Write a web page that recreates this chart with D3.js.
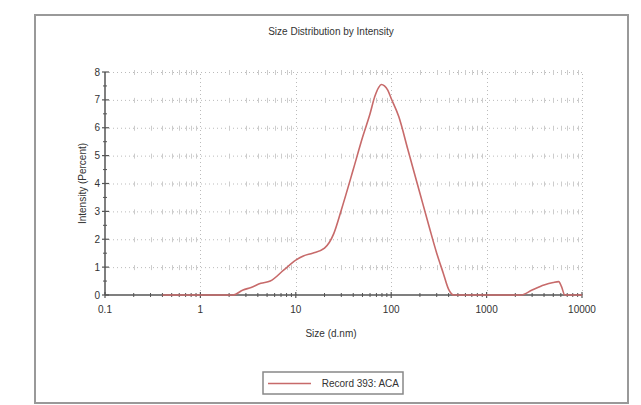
<!DOCTYPE html>
<html>
<head>
<meta charset="utf-8">
<script src="https://cdn.jsdelivr.net/npm/d3@7"></script>
<style>
  body { margin: 0; background: #fff; }
  text { font-family: "Liberation Sans Narrow", "Liberation Sans", Arial, sans-serif; fill: #333; }
</style>
</head>
<body>
<div id="chart"></div>
<script>
// values
var sizes = [0.4, 1, 2.2, 2.8, 3.4, 4.3, 5.4, 7.5, 10, 12, 15, 20, 25, 30, 40, 50, 60, 67, 74, 79, 85, 92, 100, 120, 150, 200, 250, 300, 350, 400, 450, 1000, 2300, 3000, 4000, 5000, 5700, 6100, 6600, 10000];
var intensity = [0, 0, 0, 0.18, 0.27, 0.42, 0.5, 0.9, 1.25, 1.4, 1.5, 1.68, 2.2, 3.05, 4.5, 5.65, 6.5, 7.1, 7.45, 7.55, 7.5, 7.35, 7.05, 6.4, 5.2, 3.65, 2.45, 1.5, 0.8, 0.2, 0, 0, 0, 0.18, 0.36, 0.45, 0.48, 0.3, 0, 0];
var xTicks = [0.1, 1, 10, 100, 1000, 10000];
var yTicks = [0, 1, 2, 3, 4, 5, 6, 7, 8];
var seriesName = "Record 393: ACA";

var width = 641, height = 405;
var margin = { top: 72, right: 59, bottom: 110, left: 105 }; // plot box 105..582, 72..295

var svg = d3.select("#chart").append("svg")
    .attr("width", width)
    .attr("height", height);

// outer frame
svg.append("rect")
    .attr("x", 35).attr("y", 15)
    .attr("width", 593).attr("height", 388)
    .attr("fill", "none")
    .attr("stroke", "#999")
    .attr("stroke-width", 2);

var x = d3.scaleLog()
    .domain([0.1, 10000])
    .range([margin.left, width - margin.right]);

var y = d3.scaleLinear()
    .domain([0, 8])
    .range([height - margin.bottom, margin.top]);

var minorX = [];
xTicks.slice(0, -1).forEach(function (d) {
    for (var k = 2; k <= 9; k++) minorX.push(d * k);
});

// grid
var grid = svg.append("g").attr("stroke", "#bbb").attr("stroke-width", 1);
grid.selectAll(".hg")
    .data(yTicks.slice(1))
    .enter().append("line")
    .attr("x1", x(0.1)).attr("x2", x(10000))
    .attr("y1", function (d) { return y(d) + 0.5; })
    .attr("y2", function (d) { return y(d) + 0.5; })
    .attr("stroke-dasharray", "1,3");
grid.selectAll(".vg")
    .data(xTicks.slice(1))
    .enter().append("line")
    .attr("x1", function (d) { return Math.round(x(d)) + 0.5; })
    .attr("x2", function (d) { return Math.round(x(d)) + 0.5; })
    .attr("y1", y(0)).attr("y2", y(8))
    .attr("stroke-dasharray", "1,3");

// little minor marks along each horizontal grid line
yTicks.slice(1).forEach(function (v) {
    grid.append("g").selectAll("line")
        .data(minorX)
        .enter().append("line")
        .attr("x1", function (d) { return Math.round(x(d)) + 0.5; })
        .attr("x2", function (d) { return Math.round(x(d)) + 0.5; })
        .attr("y1", y(v) - 2).attr("y2", y(v) + 3)
        .attr("stroke", "#ccc");
});

// x axis
var xAxis = svg.append("g").attr("transform", "translate(0," + y(0) + ")");
xAxis.append("line")
    .attr("x1", x(0.1)).attr("x2", x(10000))
    .attr("stroke", "#555").attr("stroke-width", 1.5);
xAxis.selectAll(".mx")
    .data(minorX)
    .enter().append("line")
    .attr("x1", function (d) { return x(d); }).attr("x2", function (d) { return x(d); })
    .attr("y1", -2).attr("y2", 2)
    .attr("stroke", "#555");
xAxis.selectAll(".tx")
    .data(xTicks)
    .enter().append("line")
    .attr("x1", function (d) { return x(d); }).attr("x2", function (d) { return x(d); })
    .attr("y1", -3).attr("y2", 3)
    .attr("stroke", "#555").attr("stroke-width", 1.2);
xAxis.selectAll("text")
    .data(xTicks)
    .enter().append("text")
    .attr("x", function (d) { return x(d); })
    .attr("y", 18)
    .attr("text-anchor", "middle")
    .style("font-size", "10px")
    .text(function (d) { return d; });

// y axis
var yAxis = svg.append("g").attr("transform", "translate(" + x(0.1) + ",0)");
yAxis.append("line")
    .attr("y1", y(0)).attr("y2", y(8))
    .attr("stroke", "#555").attr("stroke-width", 1.5);
yAxis.selectAll(".my")
    .data(d3.range(0.5, 8, 1))
    .enter().append("line")
    .attr("x1", -2).attr("x2", 2)
    .attr("y1", function (d) { return y(d); }).attr("y2", function (d) { return y(d); })
    .attr("stroke", "#555");
yAxis.selectAll(".ty")
    .data(yTicks)
    .enter().append("line")
    .attr("x1", -3).attr("x2", 4)
    .attr("y1", function (d) { return y(d); }).attr("y2", function (d) { return y(d); })
    .attr("stroke", "#555").attr("stroke-width", 1.2);
yAxis.selectAll("text")
    .data(yTicks)
    .enter().append("text")
    .attr("x", -5)
    .attr("y", function (d) { return y(d); })
    .attr("dy", "0.35em")
    .attr("text-anchor", "end")
    .style("font-size", "10px")
    .text(function (d) { return d; });

// curve, drawn over the axis so the flat parts show on the baseline
var line = d3.line()
    .x(function (d, i) { return x(sizes[i]); })
    .y(function (d) { return y(d); })
    .curve(d3.curveMonotoneX);

svg.append("path")
    .datum(intensity)
    .attr("fill", "none")
    .attr("stroke", "#c76a6a")
    .attr("stroke-width", 1.6)
    .attr("stroke-linejoin", "round")
    .attr("d", line);

// titles
svg.append("text")
    .attr("x", 331).attr("y", 35)
    .attr("text-anchor", "middle")
    .style("font-size", "10px")
    .text("Size Distribution by Intensity");

svg.append("text")
    .attr("x", 331).attr("y", 337)
    .attr("text-anchor", "middle")
    .style("font-size", "10px")
    .text("Size (d.nm)");

svg.append("text")
    .attr("transform", "translate(86," + (y(4)) + ") rotate(-90)")
    .attr("text-anchor", "middle")
    .style("font-size", "10px")
    .text("Intensity (Percent)");

// legend
var legend = svg.append("g").attr("transform", "translate(263,372)");
legend.append("rect")
    .attr("width", 140).attr("height", 22)
    .attr("fill", "#fff")
    .attr("stroke", "#888").attr("stroke-width", 1.5);
legend.append("line")
    .attr("x1", 5).attr("x2", 48)
    .attr("y1", 11.5).attr("y2", 11.5)
    .attr("stroke", "#c76a6a").attr("stroke-width", 1.6);
legend.append("text")
    .attr("x", 136).attr("y", 11)
    .attr("dy", "0.35em")
    .attr("text-anchor", "end")
    .style("font-size", "10px")
    .text(seriesName);
</script>
</body>
</html>
